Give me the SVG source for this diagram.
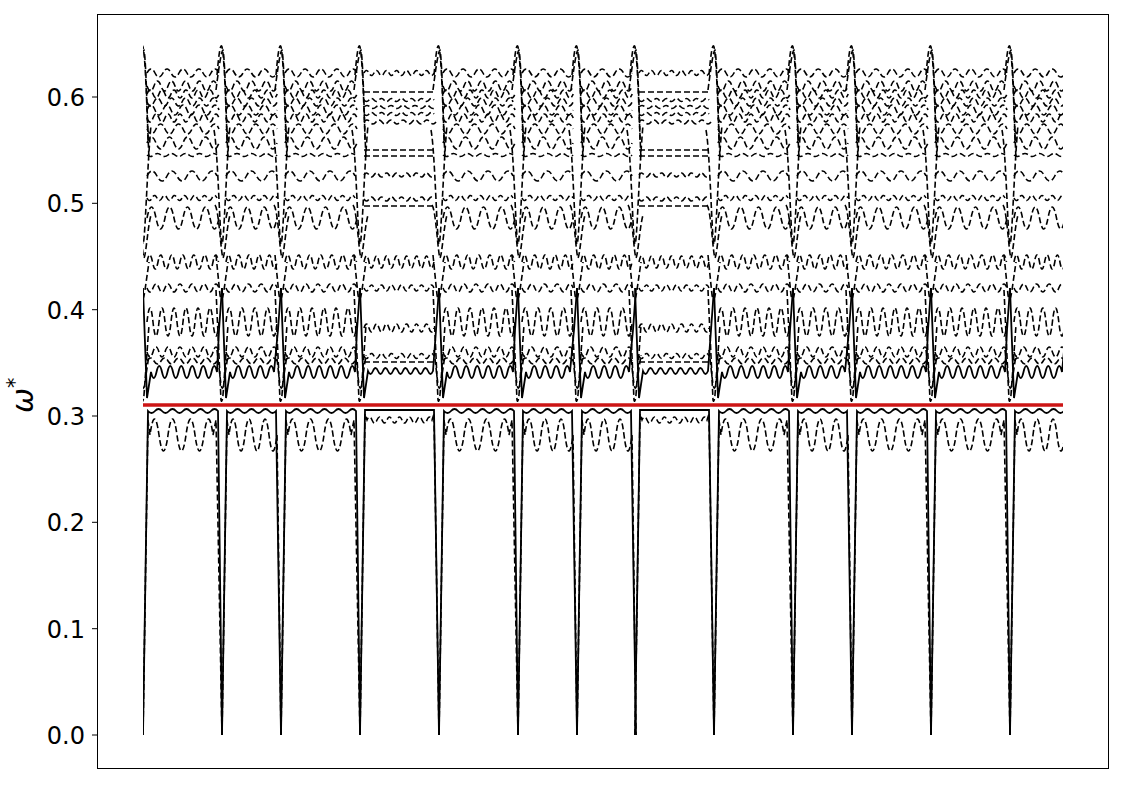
<svg xmlns="http://www.w3.org/2000/svg" xmlns:xlink="http://www.w3.org/1999/xlink" width="1125" height="785" viewBox="0 0 1125 785">
<style>
.d{fill:none;stroke:#000;stroke-width:1.6;stroke-dasharray:6 3}
.s{fill:none;stroke:#000;stroke-width:1.8}
.tk{stroke:#000;stroke-width:1}
.tl{font-family:"DejaVu Sans","Liberation Sans",sans-serif;font-size:24px;fill:#000;text-anchor:end}
</style>
<defs>
<clipPath id="clip"><rect x="143" y="0" width="920" height="785"/></clipPath>
<g id="segL">
<path class="d" d="M4 73 q4 -8 8 0 t8 0 t8 0 t8 0 t8 0 t8 0 t8 0 t8 0 t8 0"/>
<path class="d" d="M4 86 q3.5 10 7 0 t7 0 t7 0 t7 0 t7 0 t7 0 t7 0 t7 0 t7 0 t7 0"/>
<path class="d" d="M4 94 q3 -8 6 0 t6 0 t6 0 t6 0 t6 0 t6 0 t6 0 t6 0 t6 0 t6 0 t6 0 t6 0"/>
<path class="d" d="M4 102 q3.5 8 7 0 t7 0 t7 0 t7 0 t7 0 t7 0 t7 0 t7 0 t7 0 t7 0"/>
<path class="d" d="M4 110 q4 -10 8 0 t8 0 t8 0 t8 0 t8 0 t8 0 t8 0 t8 0 t8 0"/>
<path class="d" d="M4 118 q3 8 6 0 t6 0 t6 0 t6 0 t6 0 t6 0 t6 0 t6 0 t6 0 t6 0 t6 0 t6 0"/>
<path class="d" d="M4 129 q4.5 10 9 0 t9 0 t9 0 t9 0 t9 0 t9 0 t9 0 t9 0"/>
<path class="d" d="M4 143 q4.5 -12 9 0 t9 0 t9 0 t9 0 t9 0 t9 0 t9 0 t9 0"/>
<path class="d" d="M4 155 q3.5 3 7 0 t7 0 t7 0 t7 0 t7 0 t7 0 t7 0 t7 0 t7 0 t7 0"/>
<path class="d" d="M4 176 q5 -10 10 0 t10 0 t10 0 t10 0 t10 0 t10 0 t10 0"/>
<path class="d" d="M4 198 q2.5 5 5 0 t5 0 t5 0 t5 0 t5 0 t5 0 t5 0 t5 0 t5 0 t5 0 t5 0 t5 0 t5 0 t5 0"/>
<path class="d" d="M4 218 q4.5 -22 9 0 t9 0 t9 0 t9 0 t9 0 t9 0 t9 0 t9 0"/>
<path class="d" d="M4 262 q2.75 -14 5.5 0 t5.5 0 t5.5 0 t5.5 0 t5.5 0 t5.5 0 t5.5 0 t5.5 0 t5.5 0 t5.5 0 t5.5 0 t5.5 0 t5.5 0"/>
<path class="d" d="M4 288 q3 8 6 0 t6 0 t6 0 t6 0 t6 0 t6 0 t6 0 t6 0 t6 0 t6 0 t6 0 t6 0"/>
<path class="d" d="M4 322 q3 -28 6 0 t6 0 t6 0 t6 0 t6 0 t6 0 t6 0 t6 0 t6 0 t6 0 t6 0 t6 0"/>
<path class="d" d="M4 352 q3 10 6 0 t6 0 t6 0 t6 0 t6 0 t6 0 t6 0 t6 0 t6 0 t6 0 t6 0 t6 0"/>
<path class="d" d="M4 361 q3.5 -6 7 0 t7 0 t7 0 t7 0 t7 0 t7 0 t7 0 t7 0 t7 0 t7 0"/>
<path class="s" d="M0 288 L4 398 L8 372 q2.75 12 5.5 0 t5.5 0 t5.5 0 t5.5 0 t5.5 0 t5.5 0 t5.5 0 t5.5 0 t5.5 0 t5.5 0 t5.5 0 t5.5 0 L76 330 L79 288"/>
<path class="s" d="M0 735 L5 411 q3.5 4 7 0 t7 0 t7 0 t7 0 t7 0 t7 0 t7 0 t7 0 t7 0 t7 0 L79 735"/>
<path class="d" d="M0 735 L5 420 L7 435 q4.5 -32 9 0 t9 0 t9 0 t9 0 t9 0 t9 0 t9 0 L73 420 L79 735"/>
</g>
<g id="segS">
<path class="d" d="M4 73 q4.25 -8 8.5 0 t8.5 0 t8.5 0 t8.5 0 t8.5 0 t8.5 0"/>
<path class="d" d="M4 86 q3.65 10 7.3 0 t7.3 0 t7.3 0 t7.3 0 t7.3 0 t7.3 0 t7.3 0"/>
<path class="d" d="M4 94 q3.2 -8 6.4 0 t6.4 0 t6.4 0 t6.4 0 t6.4 0 t6.4 0 t6.4 0 t6.4 0"/>
<path class="d" d="M4 102 q3.65 8 7.3 0 t7.3 0 t7.3 0 t7.3 0 t7.3 0 t7.3 0 t7.3 0"/>
<path class="d" d="M4 110 q4.25 -10 8.5 0 t8.5 0 t8.5 0 t8.5 0 t8.5 0 t8.5 0"/>
<path class="d" d="M4 118 q3.2 8 6.4 0 t6.4 0 t6.4 0 t6.4 0 t6.4 0 t6.4 0 t6.4 0 t6.4 0"/>
<path class="d" d="M4 129 q4.25 10 8.5 0 t8.5 0 t8.5 0 t8.5 0 t8.5 0 t8.5 0"/>
<path class="d" d="M4 143 q4.25 -12 8.5 0 t8.5 0 t8.5 0 t8.5 0 t8.5 0 t8.5 0"/>
<path class="d" d="M4 155 q3.65 3 7.3 0 t7.3 0 t7.3 0 t7.3 0 t7.3 0 t7.3 0 t7.3 0"/>
<path class="d" d="M4 176 q5.1 -10 10.2 0 t10.2 0 t10.2 0 t10.2 0 t10.2 0"/>
<path class="d" d="M4 198 q2.55 5 5.1 0 t5.1 0 t5.1 0 t5.1 0 t5.1 0 t5.1 0 t5.1 0 t5.1 0 t5.1 0 t5.1 0"/>
<path class="d" d="M4 218 q4.25 -22 8.5 0 t8.5 0 t8.5 0 t8.5 0 t8.5 0 t8.5 0"/>
<path class="d" d="M4 262 q2.55 -14 5.1 0 t5.1 0 t5.1 0 t5.1 0 t5.1 0 t5.1 0 t5.1 0 t5.1 0 t5.1 0 t5.1 0"/>
<path class="d" d="M4 288 q3.2 8 6.4 0 t6.4 0 t6.4 0 t6.4 0 t6.4 0 t6.4 0 t6.4 0 t6.4 0"/>
<path class="d" d="M4 322 q3.2 -28 6.4 0 t6.4 0 t6.4 0 t6.4 0 t6.4 0 t6.4 0 t6.4 0 t6.4 0"/>
<path class="d" d="M4 352 q3.2 10 6.4 0 t6.4 0 t6.4 0 t6.4 0 t6.4 0 t6.4 0 t6.4 0 t6.4 0"/>
<path class="d" d="M4 361 q3.65 -6 7.3 0 t7.3 0 t7.3 0 t7.3 0 t7.3 0 t7.3 0 t7.3 0"/>
<path class="s" d="M0 288 L4 398 L8 372 q2.75 12 5.5 0 t5.5 0 t5.5 0 t5.5 0 t5.5 0 t5.5 0 t5.5 0 t5.5 0 L56 330 L59 288"/>
<path class="s" d="M0 735 L5 411 q3.5 4 7 0 t7 0 t7 0 t7 0 t7 0 t7 0 t7 0 L59 735"/>
<path class="d" d="M0 735 L5 420 L7 435 q4 -32 8 0 t8 0 t8 0 t8 0 t8 0 t8 0 L59 735"/>
</g>
<g id="segF">
<path class="d" d="M4 73 q2.5 -5 5 0 t5 0 t5 0 t5 0 t5 0 t5 0 t5 0 t5 0 t5 0 t5 0 t5 0 t5 0 t5 0 t5 0"/>
<path class="d" d="M4 92 H76"/>
<path class="d" d="M4 100 q2.5 3 5 0 t5 0 t5 0 t5 0 t5 0 t5 0 t5 0 t5 0 t5 0 t5 0 t5 0 t5 0 t5 0 t5 0"/>
<path class="d" d="M4 107 q3 -3 6 0 t6 0 t6 0 t6 0 t6 0 t6 0 t6 0 t6 0 t6 0 t6 0 t6 0 t6 0"/>
<path class="d" d="M4 114 q2.5 3 5 0 t5 0 t5 0 t5 0 t5 0 t5 0 t5 0 t5 0 t5 0 t5 0 t5 0 t5 0 t5 0 t5 0"/>
<path class="d" d="M4 122 q3 -4 6 0 t6 0 t6 0 t6 0 t6 0 t6 0 t6 0 t6 0 t6 0 t6 0 t6 0 t6 0"/>
<path class="d" d="M4 150 H76"/>
<path class="d" d="M4 156 H76"/>
<path class="d" d="M4 175 q2.5 -4 5 0 t5 0 t5 0 t5 0 t5 0 t5 0 t5 0 t5 0 t5 0 t5 0 t5 0 t5 0 t5 0 t5 0"/>
<path class="d" d="M4 199 q2.5 4 5 0 t5 0 t5 0 t5 0 t5 0 t5 0 t5 0 t5 0 t5 0 t5 0 t5 0 t5 0 t5 0 t5 0"/>
<path class="d" d="M4 206 H76"/>
<path class="d" d="M4 262 q2.5 -12 5 0 t5 0 t5 0 t5 0 t5 0 t5 0 t5 0 t5 0 t5 0 t5 0 t5 0 t5 0 t5 0 t5 0"/>
<path class="d" d="M4 288 q2.5 6 5 0 t5 0 t5 0 t5 0 t5 0 t5 0 t5 0 t5 0 t5 0 t5 0 t5 0 t5 0 t5 0 t5 0"/>
<path class="d" d="M4 328 q2.5 -8 5 0 t5 0 t5 0 t5 0 t5 0 t5 0 t5 0 t5 0 t5 0 t5 0 t5 0 t5 0 t5 0 t5 0"/>
<path class="d" d="M4 356 q2.5 5 5 0 t5 0 t5 0 t5 0 t5 0 t5 0 t5 0 t5 0 t5 0 t5 0 t5 0 t5 0 t5 0 t5 0"/>
<path class="d" d="M4 362 H76"/>
<path class="s" d="M0 288 L4 398 L8 371 q2.5 6 5 0 t5 0 t5 0 t5 0 t5 0 t5 0 t5 0 t5 0 t5 0 t5 0 t5 0 t5 0 t5 0 L76 330 L79 288"/>
<path class="s" d="M0 735 L5 410 H74 L79 735"/>
<path class="d" d="M0 735 L5 414 L7 420 q2.5 -6 5 0 t5 0 t5 0 t5 0 t5 0 t5 0 t5 0 t5 0 t5 0 t5 0 t5 0 t5 0 t5 0 L74 414 L79 735"/>
</g>
<g id="spk">
<path class="d" d="M-5 75 Q-2 40 0 47 Q2 54 4 110 L6 160"/>
<path class="d" d="M-6 90 Q-1 50 1 50 Q3 60 5 140"/>
<path class="d" d="M-8 130 C-4 150 -2 244 0 244 C2 244 4 170 8 125"/>
<path class="d" d="M-7 205 C-3 210 -1 255 1 258 C3 255 5 225 8 215"/>
<path class="d" d="M-6 255 L-2 295 Q0 305 2 290 L6 262"/>
<path class="d" d="M-6 290 L-1 400 Q0 404 1 395 L6 325"/>
<path class="d" d="M-5 350 L-1 385 Q1 395 3 375 L6 355"/>
</g>
</defs>
<rect x="0" y="0" width="1125" height="785" fill="#fff"/>
<g id="data" clip-path="url(#clip)">
<use xlink:href="#segL" x="143"/>
<use xlink:href="#segS" x="222"/>
<use xlink:href="#segL" x="281"/>
<use xlink:href="#segF" x="360"/>
<use xlink:href="#segL" x="439"/>
<use xlink:href="#segS" x="518"/>
<use xlink:href="#segS" x="577"/>
<use xlink:href="#segF" x="635"/>
<use xlink:href="#segL" x="714"/>
<use xlink:href="#segS" x="793"/>
<use xlink:href="#segL" x="852"/>
<use xlink:href="#segL" x="931"/>
<use xlink:href="#segS" x="1010"/>
<use xlink:href="#spk" x="143"/>
<use xlink:href="#spk" x="222"/>
<use xlink:href="#spk" x="281"/>
<use xlink:href="#spk" x="360"/>
<use xlink:href="#spk" x="439"/>
<use xlink:href="#spk" x="518"/>
<use xlink:href="#spk" x="577"/>
<use xlink:href="#spk" x="635"/>
<use xlink:href="#spk" x="714"/>
<use xlink:href="#spk" x="793"/>
<use xlink:href="#spk" x="852"/>
<use xlink:href="#spk" x="931"/>
<use xlink:href="#spk" x="1010"/>
</g>
<line id="threshold" x1="143" y1="405" x2="1063" y2="405" stroke="#cc1515" stroke-width="3.5"/>
<g id="axes">
<rect x="97.5" y="14.5" width="1011" height="754" fill="none" stroke="#000" stroke-width="1"/>
<line class="tk" x1="92" y1="735" x2="97" y2="735"/>
<line class="tk" x1="92" y1="628.7" x2="97" y2="628.7"/>
<line class="tk" x1="92" y1="522.3" x2="97" y2="522.3"/>
<line class="tk" x1="92" y1="416" x2="97" y2="416"/>
<line class="tk" x1="92" y1="309.7" x2="97" y2="309.7"/>
<line class="tk" x1="92" y1="203.3" x2="97" y2="203.3"/>
<line class="tk" x1="92" y1="97" x2="97" y2="97"/>
<text class="tl" x="85" y="744">0.0</text>
<text class="tl" x="85" y="637.7">0.1</text>
<text class="tl" x="85" y="531.3">0.2</text>
<text class="tl" x="85" y="425">0.3</text>
<text class="tl" x="85" y="318.7">0.4</text>
<text class="tl" x="85" y="212.3">0.5</text>
<text class="tl" x="85" y="106">0.6</text>
<text transform="translate(33,413) rotate(-90)" font-family="DejaVu Sans, sans-serif" font-size="30" font-style="italic">ω<tspan font-style="normal" font-size="21" dy="-11">*</tspan></text>
</g>
</svg>
